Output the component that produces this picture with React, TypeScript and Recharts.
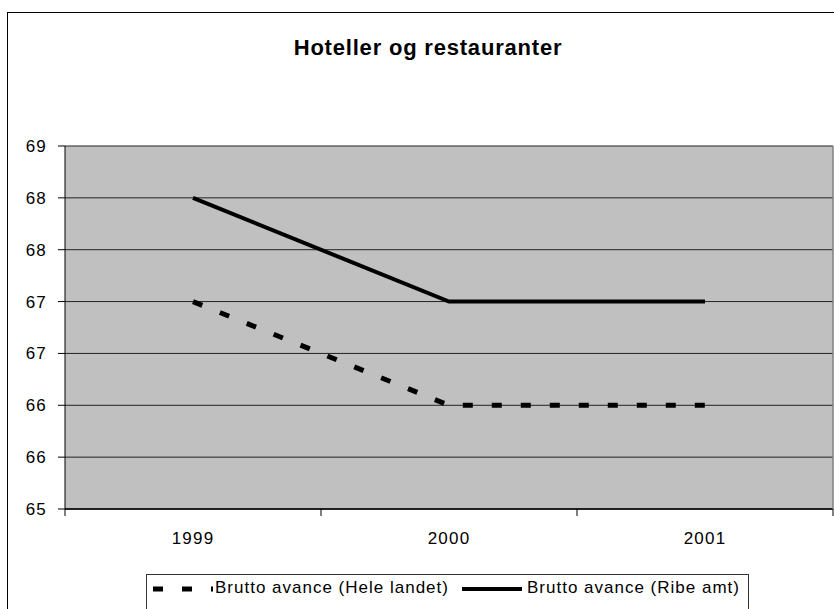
import React from 'react';
import { LineChart, Line, XAxis, YAxis, CartesianGrid } from 'recharts';

const years = ['1999', '2000', '2001'];
const heleLandet = [67, 66, 66];
const ribeAmt = [68, 67, 67];
const yTicks = [65, 65.5, 66, 66.5, 67, 67.5, 68, 68.5];
const seriesNames = ['Brutto avance (Hele landet)', 'Brutto avance (Ribe amt)'];
const title = 'Hoteller og restauranter';

const data = years.map((year, i) => ({ year, hele: heleLandet[i], ribe: ribeAmt[i] }));

const W = 834;
const H = 609;
const Y_AXIS_W = 65;
const RIGHT_W = 1;
const TOP = 146;
const X_AXIS_H = 100;
const PLOT_W = W - Y_AXIS_W - RIGHT_W;
const BAND = PLOT_W / years.length;
const FONT = '"Liberation Sans", Arial, sans-serif';
const X_TICK_SIZE = 7;
const X_TICK_MARGIN = 16;

const XTick = (props: any) => {
  const { x, y, payload, index } = props;
  const axisY = y - X_TICK_SIZE - X_TICK_MARGIN;
  return (
    <g>
      {index === 0 && (
        <line x1={x - BAND / 2} x2={x - BAND / 2} y1={axisY} y2={axisY + X_TICK_SIZE} stroke="#000" strokeWidth={1} />
      )}
      <line x1={x + BAND / 2} x2={x + BAND / 2} y1={axisY} y2={axisY + X_TICK_SIZE} stroke="#000" strokeWidth={1} />
      <text x={x} y={y} dy="0.71em" textAnchor="middle" fontSize={17} fill="#000" fontFamily={FONT} letterSpacing={1.2}>
        {payload.value}
      </text>
    </g>
  );
};

const YTick = (props: any) => {
  const { x, y, payload } = props;
  return (
    <text x={x} y={y} dy="0.355em" textAnchor="end" fontSize={17} fill="#000" fontFamily={FONT} letterSpacing={1.2}>
      {Math.round(payload.value)}
    </text>
  );
};

export default function App() {
  return (
    <div style={{ position: 'fixed', left: 0, top: 0, width: W, height: H, background: '#fff', fontFamily: FONT }}>
      <div style={{ position: 'absolute', left: 0, top: 0 }}>
        <LineChart width={W} height={H} data={data} margin={{ top: TOP, right: 0, bottom: 0, left: 0 }}>
          <CartesianGrid vertical={false} stroke="#222" fill="#C0C0C0" fillOpacity={1} />
          <XAxis
            dataKey="year"
            scale="band"
            height={X_AXIS_H}
            axisLine={{ stroke: '#000', strokeWidth: 1.5 }}
            tickLine={false}
            tickSize={X_TICK_SIZE}
            tickMargin={X_TICK_MARGIN}
            tick={<XTick />}
            interval={0}
          />
          <YAxis
            type="number"
            domain={[65, 68.5]}
            ticks={yTicks}
            width={Y_AXIS_W}
            axisLine={{ stroke: '#000' }}
            tickLine={{ stroke: '#000' }}
            tickSize={7}
            tickMargin={11}
            tick={<YTick />}
            interval={0}
            allowDataOverflow
          />
          <YAxis
            yAxisId="right"
            orientation="right"
            width={RIGHT_W}
            domain={[0, 1]}
            tick={false}
            tickLine={false}
            axisLine={{ stroke: '#808080', strokeWidth: 1.5 }}
          />
          <Line
            type="linear"
            dataKey="hele"
            name={seriesNames[0]}
            stroke="#000"
            strokeWidth={5}
            strokeDasharray="10 19"
            strokeLinecap="butt"
            dot={false}
            activeDot={false}
            isAnimationActive={false}
          />
          <Line
            type="linear"
            dataKey="ribe"
            name={seriesNames[1]}
            stroke="#000"
            strokeWidth={4}
            dot={false}
            activeDot={false}
            isAnimationActive={false}
          />
        </LineChart>
      </div>
      <svg width={W} height={H} style={{ position: 'absolute', left: 0, top: 0, pointerEvents: 'none' }}>
        <rect x={7.5} y={12.5} width={1000} height={1000} fill="none" stroke="#000" strokeWidth={1} />
        <text x={428} y={55} textAnchor="middle" fontSize={22} fontWeight="bold" fill="#000" fontFamily={FONT} letterSpacing={0.8}>
          {title}
        </text>
        <rect x={146.5} y={574.5} width={602} height={60} fill="#fff" stroke="#333" strokeWidth={1} />
        <line x1={153} x2={213} y1={589} y2={589} stroke="#000" strokeWidth={5} strokeDasharray="10 19" />
        <text x={215} y={593} fontSize={17} fill="#000" fontFamily={FONT} letterSpacing={1}>
          {seriesNames[0]}
        </text>
        <line x1={462} x2={522} y1={589} y2={589} stroke="#000" strokeWidth={4} />
        <text x={527} y={593} fontSize={17} fill="#000" fontFamily={FONT} letterSpacing={1}>
          {seriesNames[1]}
        </text>
      </svg>
    </div>
  );
}
